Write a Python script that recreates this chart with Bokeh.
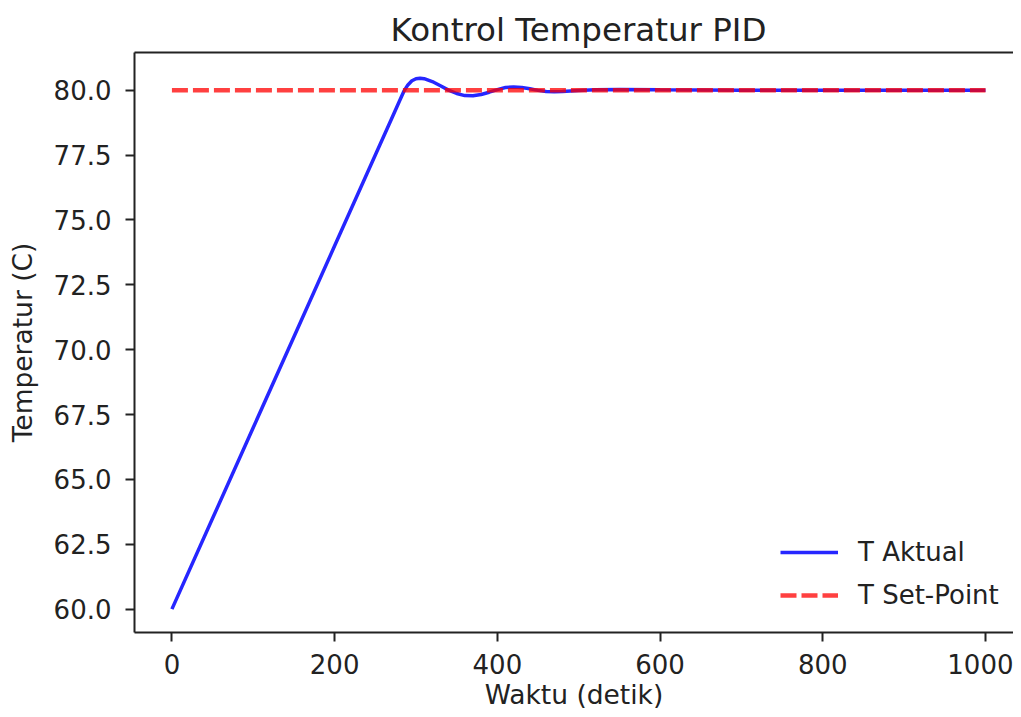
from bokeh.plotting import figure
from bokeh.models import (Range1d, FixedTicker, NumeralTickFormatter, LinearAxis,
                          Legend, LegendItem, ColumnDataSource, Title)
from bokeh.embed import file_html
from bokeh.resources import INLINE

# ---- data ----
waktu = [0, 50, 100, 150, 200, 250, 270, 280, 285, 290, 295, 300, 305, 310, 320,
         330, 340, 350, 360, 370, 380, 390, 400, 410, 420, 430, 440, 450, 460,
         470, 480, 490, 500, 520, 550, 600, 700, 800, 900, 1000]
t_aktual = [60.0, 63.5, 67.0, 70.5, 74.0, 77.5, 78.9, 79.6, 79.95, 80.2, 80.36,
            80.44, 80.46, 80.44, 80.33, 80.17, 80.0, 79.87, 79.79, 79.78, 79.83,
            79.92, 80.02, 80.1, 80.12, 80.1, 80.05, 79.99, 79.95, 79.94, 79.95,
            79.97, 79.99, 80.01, 80.02, 80.01, 80.0, 80.0, 80.0, 80.0]
sp_waktu = [0, 1000]
t_setpoint = [80.0, 80.0]
x_ticks = [0, 200, 400, 600, 800, 1000]
y_ticks = [60.0, 62.5, 65.0, 67.5, 70.0, 72.5, 75.0, 77.5, 80.0]

FONT = "DejaVu Sans"
TXT = "#222222"

p = figure(width=1013, height=709, output_backend="svg", toolbar_location=None,
           x_range=Range1d(-46, 1034.4), y_range=Range1d(59.1, 81.45),
           min_border_left=134, min_border_right=0, min_border_top=52,
           min_border_bottom=76, title=None)
p.outline_line_color = None
p.xgrid.visible = False
p.ygrid.visible = False

xax = p.below[0]
yax = p.left[0]

for ax in (xax, yax):
    ax.axis_line_color = TXT
    ax.axis_line_width = 2
    ax.major_tick_line_color = TXT
    ax.major_tick_line_width = 2
    ax.major_tick_out = 9
    ax.major_tick_in = 0
    ax.minor_tick_line_color = None
    ax.major_label_text_font = FONT
    ax.major_label_text_font_size = "26px"
    ax.major_label_text_color = TXT
    ax.axis_label_text_font = FONT
    ax.axis_label_text_font_size = "26.5px"
    ax.axis_label_text_font_style = "normal"
    ax.axis_label_text_color = TXT

xax.ticker = FixedTicker(ticks=x_ticks)
yax.ticker = FixedTicker(ticks=y_ticks)
yax.formatter = NumeralTickFormatter(format="0.0")
yax.axis_label = "Temperatur (C)"
xax.major_label_standoff = 12
yax.major_label_standoff = 14
yax.axis_label_standoff = 13

# x-axis title as a panel title below the axis
xt = Title(text="Waktu (detik)", align="center", text_font=FONT,
           text_font_size="26.5px", text_font_style="normal", text_color=TXT,
           standoff=0)
p.add_layout(xt, "below")

# top spine (closest to the frame), then title
top = LinearAxis(ticker=FixedTicker(ticks=[]), axis_line_color=TXT, axis_line_width=2,
                 major_tick_line_color=None, minor_tick_line_color=None,
                 major_tick_out=0, major_tick_in=0, major_label_standoff=0,
                 major_label_text_font_size="0px")
p.add_layout(top, "above")

t = Title(text="Kontrol Temperatur PID", align="left", text_font=FONT,
          text_font_size="32.5px", text_font_style="normal", text_color=TXT,
          standoff=8, offset=256)
p.add_layout(t, "above")

src_a = ColumnDataSource(dict(x=waktu, y=t_aktual))
src_s = ColumnDataSource(dict(x=sp_waktu, y=t_setpoint))
r1 = p.line("x", "y", source=src_a, line_color="blue", line_alpha=0.85, line_width=3.5)
r2 = p.line("x", "y", source=src_s, line_color="red", line_alpha=0.75, line_width=4.5,
            line_dash="16 5")

legend = Legend(items=[LegendItem(label="T Aktual", renderers=[r1]),
                       LegendItem(label="T Set-Point", renderers=[r2])],
                location=(646, 19), orientation="vertical",
                border_line_color=None, background_fill_alpha=0,
                padding=0, margin=0, spacing=7, glyph_width=58, glyph_height=36,
                label_height=36, label_standoff=20, label_text_font=FONT,
                label_text_font_size="26px", label_text_color=TXT)
p.add_layout(legend, "center")

open("out.html", "w").write(file_html(p, INLINE))
